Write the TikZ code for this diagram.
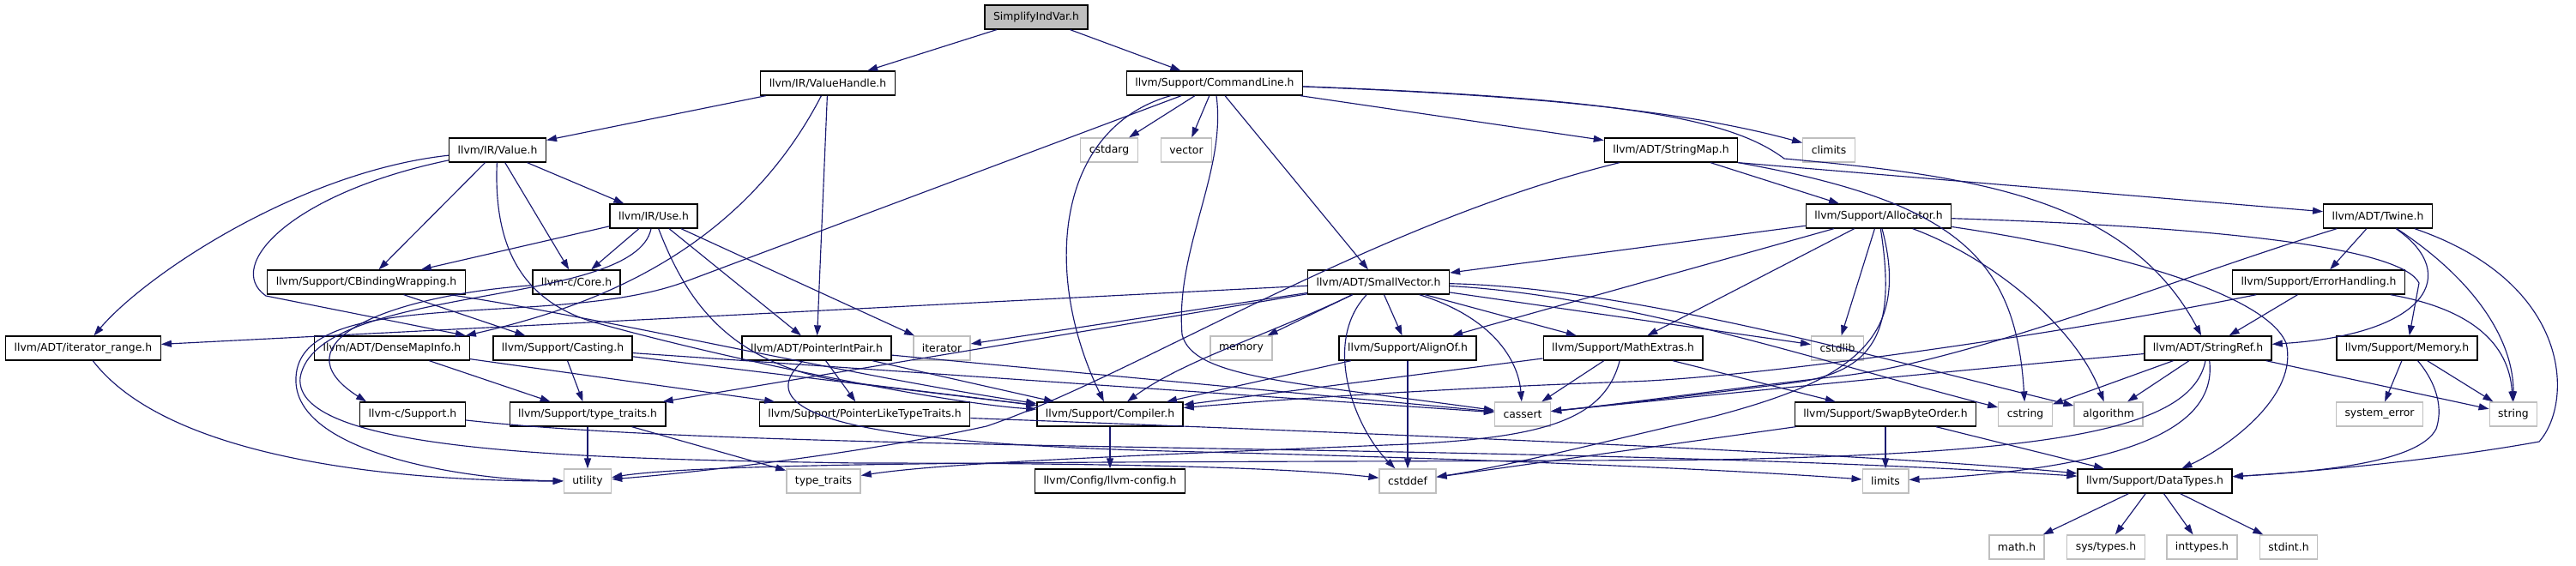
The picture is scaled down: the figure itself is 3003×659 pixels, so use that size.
\documentclass[tikz,border=0pt]{standalone}
\usepackage{fontspec}
\setmainfont{DejaVu Sans}
\usepackage{tikz}
\usetikzlibrary{arrows.meta}
\definecolor{EdgeBlue}{HTML}{191970}
\definecolor{SysGray}{HTML}{BFBFBF}

\begin{document}
\begin{tikzpicture}[x=1pt, y=-1pt,
      hdr/.style={rectangle, draw=black, line width=1.3pt, fill=white,
                  minimum height=28pt, inner xsep=10pt, inner ysep=0pt,
                  font=\fontsize{12.4}{14}\selectfont},
      sys/.style={hdr, draw=SysGray},
      root/.style={hdr, fill=SysGray},
      arrow/.style={-{Triangle[length=12pt,width=8pt]}, color=EdgeBlue, line width=1.15pt}
    ]
      \useasboundingbox (0,0) rectangle (3003,659);
      % headers, row by row
      \node[root] (root) at (1208,20) {SimplifyIndVar.h};
      \node[hdr] (vh) at (965,97) {llvm/IR/ValueHandle.h};
      \node[hdr] (cl) at (1416,97) {llvm/Support/CommandLine.h};
      \node[hdr] (val) at (580,175) {llvm/IR/Value.h};
      \node[sys] (cstdarg) at (1293,175) {cstdarg};
      \node[sys] (vector) at (1383,175) {vector};
      \node[hdr] (smap) at (1948,175) {llvm/ADT/StringMap.h};
      \node[sys] (climits) at (2132,175) {climits};
      \node[hdr] (use) at (762,252) {llvm/IR/Use.h};
      \node[hdr] (alloc) at (2190,252) {llvm/Support/Allocator.h};
      \node[hdr] (twine) at (2772,252) {llvm/ADT/Twine.h};
      \node[hdr] (cbw) at (427,329) {llvm/Support/CBindingWrapping.h};
      \node[hdr] (core) at (672,329) {llvm-c/Core.h};
      \node[hdr] (svec) at (1607,329) {llvm/ADT/SmallVector.h};
      \node[hdr] (errh) at (2703,329) {llvm/Support/ErrorHandling.h};
      \node[hdr] (itr) at (97,406) {llvm/ADT/iterator\_range.h};
      \node[hdr] (dmi) at (457,406) {llvm/ADT/DenseMapInfo.h};
      \node[hdr] (cast) at (656,406) {llvm/Support/Casting.h};
      \node[hdr] (pip) at (952,406) {llvm/ADT/PointerIntPair.h};
      \node[sys] (iterator) at (1098,406) {iterator};
      \node[sys] (memory) at (1447,406) {memory};
      \node[hdr] (align) at (1641,406) {llvm/Support/AlignOf.h};
      \node[hdr] (mathx) at (1892,406) {llvm/Support/MathExtras.h};
      \node[sys] (cstdlib) at (2142,406) {cstdlib};
      \node[hdr] (sref) at (2574,406) {llvm/ADT/StringRef.h};
      \node[hdr] (mem) at (2806,406) {llvm/Support/Memory.h};
      \node[hdr] (csup) at (481,483) {llvm-c/Support.h};
      \node[hdr] (tt) at (685,483) {llvm/Support/type\_traits.h};
      \node[hdr] (pltt) at (1008,483) {llvm/Support/PointerLikeTypeTraits.h};
      \node[hdr] (comp) at (1294,483) {llvm/Support/Compiler.h};
      \node[sys] (cassert) at (1775,483) {cassert};
      \node[hdr] (swap) at (2198,483) {llvm/Support/SwapByteOrder.h};
      \node[sys] (cstring) at (2361,483) {cstring};
      \node[sys] (algorithm) at (2458,483) {algorithm};
      \node[sys] (syserr) at (2774,483) {system\_error};
      \node[sys] (string) at (2930,483) {string};
      \node[sys] (utility) at (685,561) {utility};
      \node[sys] (stdtt) at (960,561) {type\_traits};
      \node[hdr] (config) at (1294,561) {llvm/Config/llvm-config.h};
      \node[sys] (cstddef) at (1641,561) {cstddef};
      \node[sys] (limits) at (2198,561) {limits};
      \node[hdr] (dtypes) at (2512,561) {llvm/Support/DataTypes.h};
      \node[sys] (math) at (2351,638) {math.h};
      \node[sys] (systypes) at (2455,638) {sys/types.h};
      \node[sys] (inttypes) at (2567,638) {inttypes.h};
      \node[sys] (stdint) at (2668,638) {stdint.h};

      % SimplifyIndVar.h
      \draw[arrow] (root) -- (vh);
      \draw[arrow] (root) -- (cl);
      % ValueHandle.h
      \draw[arrow] (vh) -- (val);
      \draw[arrow] (vh) -- (pip);
      \draw[arrow] (vh) .. controls (860,300) and (680,360) .. ([xshift=-5pt]dmi.north east);
      % CommandLine.h
      \draw[arrow] (cl) -- (cstdarg);
      \draw[arrow] (cl) -- (vector);
      \draw[arrow] (cl) -- (smap);
      \draw[arrow] (cl) -- (svec);
      \draw[arrow] (cl) .. controls (1750,110) and (1950,125) .. (climits);
      \draw[arrow] (cl) .. controls (1900,115) and (2020,140) .. (2080,185)
                        .. controls (2300,205) and (2480,230) .. (sref);
      \draw[arrow] (cl) .. controls (1230,150) and (1215,320) .. (comp);
      \draw[arrow] (cl) .. controls (1430,200) and (1370,290) .. (1378,390)
                        .. controls (1390,440) and (1500,445) .. (cassert);
      \draw[arrow] (cl) -- (800,328) .. controls (650,385) and (350,330) .. (345,440)
                        .. controls (340,530) and (550,560) .. (utility);
      % StringMap.h
      \draw[arrow] (smap) -- (alloc);
      \draw[arrow] (smap.south east) -- (twine);
      \draw[arrow] (smap.south east) .. controls (2280,235) and (2350,300) .. (cstring);
      \draw[arrow] (smap) .. controls (1600,260) and (1320,440) .. (1150,497)
                          .. controls (1000,530) and (800,552) .. (utility);
      % Value.h
      \draw[arrow] (val) .. controls (350,200) and (170,320) .. (itr);
      \draw[arrow] (val) .. controls (340,225) and (260,310) .. (310,345)
                         -- ([xshift=-5pt]dmi.north east);
      \draw[arrow] (val) -- (cbw);
      \draw[arrow] (val) -- (core);
      \draw[arrow] (val) -- (use);
      \draw[arrow] (val) .. controls (575,290) and (610,350) .. (690,375)
                         .. controls (850,420) and (1100,470) .. (comp);
      % Use.h
      \draw[arrow] (use) -- (cbw);
      \draw[arrow] (use) -- (core);
      \draw[arrow] (use) -- (pip);
      \draw[arrow] (use) -- (iterator);
      \draw[arrow] (use) .. controls (800,350) and (850,430) .. (1000,447) -- (comp);
      \draw[arrow] (use) .. controls (740,360) and (370,330) .. (350,440)
                         .. controls (340,530) and (700,535) .. (1000,540)
                         .. controls (1300,540) and (1500,545) .. (cstddef);
      % CBindingWrapping.h, Core.h, Support.h
      \draw[arrow] (cbw) -- (cast);
      \draw[arrow] (cbw) .. controls (700,370) and (1000,440) .. (comp);
      \draw[arrow] (core) .. controls (450,345) and (320,400) .. ([xshift=8pt]csup.north west);
      \draw[arrow] (csup) .. controls (900,530) and (1800,515) .. (dtypes);
      \draw[arrow] (itr) .. controls (200,540) and (480,561) .. (utility);
      % DenseMapInfo.h, Casting.h, PointerIntPair.h
      \draw[arrow] (dmi) -- (pltt);
      \draw[arrow] (dmi) -- (tt);
      \draw[arrow] (cast) -- (tt);
      \draw[arrow] (cast) -- (comp);
      \draw[arrow] (cast) -- (cassert);
      \draw[arrow] (pip) -- (pltt);
      \draw[arrow] (pip) -- (comp);
      \draw[arrow] (pip) -- (cassert);
      \draw[arrow] (pip) .. controls (850,500) and (1100,520) .. (1400,527)
                         .. controls (1800,537) and (2050,550) .. (limits);
      \draw[arrow] (tt) -- (utility);
      \draw[arrow] (tt) -- (stdtt);
      \draw[arrow] (pltt) .. controls (1600,505) and (2200,530) .. (dtypes);
      \draw[arrow] (comp) -- (config);
      % SmallVector.h
      \draw[arrow] (svec) -- (itr);
      \draw[arrow] (svec) -- (iterator);
      \draw[arrow] (svec) -- (tt);
      \draw[arrow] (svec) .. controls (1480,390) and (1380,420) .. (comp);
      \draw[arrow] (svec) -- (memory);
      \draw[arrow] (svec) -- (align);
      \draw[arrow] (svec) .. controls (1540,400) and (1580,500) .. (cstddef);
      \draw[arrow] (svec) .. controls (1740,370) and (1770,420) .. (cassert);
      \draw[arrow] (svec) -- (mathx);
      \draw[arrow] (svec) -- (cstdlib);
      \draw[arrow] (svec) .. controls (1900,345) and (2150,430) .. (cstring);
      \draw[arrow] (svec) .. controls (1900,335) and (2200,420) .. (algorithm);
      % AlignOf.h, MathExtras.h
      \draw[arrow] (align) -- (comp);
      \draw[arrow] (align) -- (cstddef);
      \draw[arrow] (mathx) -- (comp);
      \draw[arrow] (mathx) -- (cassert);
      \draw[arrow] (mathx) -- (swap);
      \draw[arrow] (mathx) .. controls (1870,490) and (1800,510) .. (1640,518)
                           .. controls (1300,532) and (1100,540) .. (stdtt);
      % Allocator.h
      \draw[arrow] (alloc) -- (svec);
      \draw[arrow] (alloc) -- (align);
      \draw[arrow] (alloc) -- (mathx);
      \draw[arrow] (alloc) -- (cstdlib);
      \draw[arrow] (alloc) .. controls (2210,380) and (2190,430) .. (2100,445)
                           .. controls (2000,458) and (1900,470) .. (cassert);
      \draw[arrow] (alloc) .. controls (2230,400) and (2150,445) .. (2000,485)
                           .. controls (1850,520) and (1750,545) .. (cstddef);
      \draw[arrow] (alloc) .. controls (2320,300) and (2420,380) .. (algorithm);
      \draw[arrow] (alloc) .. controls (2450,290) and (2640,340) .. (2665,400)
                           .. controls (2680,460) and (2600,520) .. (dtypes);
      \draw[arrow] (alloc) .. controls (2600,265) and (2800,290) .. (2820,330) -- (mem);
      % Twine.h
      \draw[arrow] (twine) .. controls (2550,320) and (2300,420) .. (2150,438)
                           .. controls (2000,455) and (1900,470) .. (cassert);
      \draw[arrow] (twine) -- (errh);
      \draw[arrow] (twine) .. controls (2870,320) and (2830,390) .. (sref);
      \draw[arrow] (twine) .. controls (2890,330) and (2930,400) .. (string);
      \draw[arrow] (twine) .. controls (3000,330) and (3000,470) .. (2960,515)
                           .. controls (2850,535) and (2700,550) .. (dtypes);
      % ErrorHandling.h
      \draw[arrow] (errh) .. controls (2400,390) and (2050,440) .. (1900,445)
                          .. controls (1700,452) and (1500,465) .. (comp);
      \draw[arrow] (errh) -- (sref);
      \draw[arrow] (errh) .. controls (2880,360) and (2925,400) .. (string);
      % StringRef.h
      \draw[arrow] (sref) .. controls (2300,430) and (2000,460) .. (cassert);
      \draw[arrow] (sref) -- (cstring);
      \draw[arrow] (sref) -- (algorithm);
      \draw[arrow] (sref) .. controls (2555,500) and (2400,528) .. (2000,536)
                          .. controls (1500,540) and (850,535) .. (utility);
      \draw[arrow] (sref) .. controls (2585,500) and (2480,545) .. (limits);
      \draw[arrow] (sref) -- (string);
      % Memory.h, SwapByteOrder.h
      \draw[arrow] (mem) -- (syserr);
      \draw[arrow] (mem) -- (string);
      \draw[arrow] (mem) .. controls (2835,440) and (2850,470) .. (2840,500)
                         .. controls (2820,540) and (2700,550) .. (dtypes);
      \draw[arrow] (swap) -- (limits);
      \draw[arrow] (swap) -- (dtypes);
      \draw[arrow] (swap) -- (cstddef);
      % DataTypes.h
      \foreach \t in {math,systypes,inttypes,stdint}
        \draw[arrow] (dtypes) -- (\t);
\end{tikzpicture}
\end{document}
